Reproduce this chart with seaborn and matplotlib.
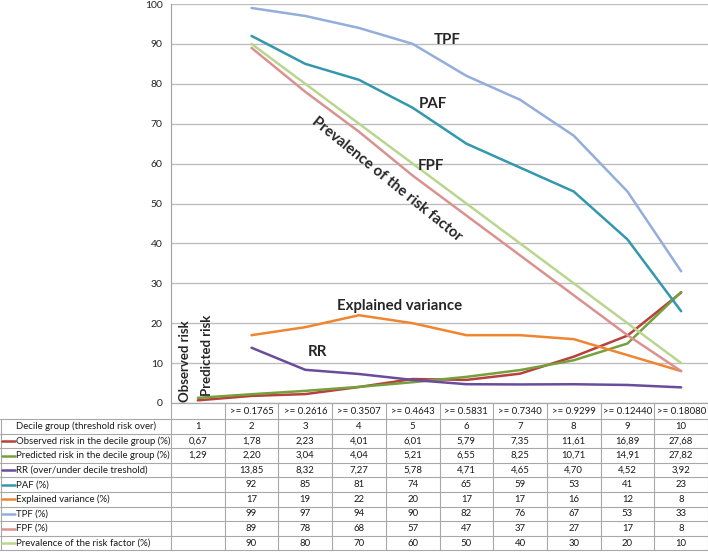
import matplotlib
matplotlib.use("Agg")
import matplotlib.pyplot as plt
import seaborn as sns
import pandas as pd
import numpy as np

categories = ['1', '2', '3', '4', '5', '6', '7', '8', '9', '10']
thresholds = ['', '>= 0.1765', '>= 0.2616', '>= 0.3507', '>= 0.4643', '>= 0.5831',
              '>= 0.7340', '>= 0.9299', '>= 0.12440', '>= 0.18080']
observed = [0.67, 1.78, 2.23, 4.01, 6.01, 5.79, 7.35, 11.61, 16.89, 27.68]
predicted = [1.29, 2.20, 3.04, 4.04, 5.21, 6.55, 8.25, 10.71, 14.91, 27.82]
rr = [np.nan, 13.85, 8.32, 7.27, 5.78, 4.71, 4.65, 4.70, 4.52, 3.92]
paf = [np.nan, 92, 85, 81, 74, 65, 59, 53, 41, 23]
expl_var = [np.nan, 17, 19, 22, 20, 17, 17, 16, 12, 8]
tpf = [np.nan, 99, 97, 94, 90, 82, 76, 67, 53, 33]
fpf = [np.nan, 89, 78, 68, 57, 47, 37, 27, 17, 8]
prevalence = [np.nan, 90, 80, 70, 60, 50, 40, 30, 20, 10]

series_names = ['Observed risk in the decile group (%)',
                'Predicted risk in the decile group (%)',
                'RR (over/under decile treshold)',
                'PAF (%)',
                'Explained variance (%)',
                'TPF (%)',
                'FPF (%)',
                'Prevalence of the risk factor (%)']
series_values = [observed, predicted, rr, paf, expl_var, tpf, fpf, prevalence]
decimals = [2, 2, 2, 0, 0, 0, 0, 0]
colors = ['#B8403D', '#76A03C', '#6A4C9C', '#3398AE', '#EF8530',
          '#93AEDA', '#DA9290', '#B9D68E']

sns.set_style("white")
plt.rcParams['font.family'] = ['Lato', 'DejaVu Sans']

W, H = 708, 553
fig = plt.figure(figsize=(W / 100, H / 100), dpi=100)

left, right, top, bottom = 171, 708, 4, 403
ax = fig.add_axes([left / W, (H - bottom) / H, (right - left) / W, (bottom - top) / H])

rows = []
for name, vals in zip(series_names, series_values):
    for c, v in zip(categories, vals):
        rows.append({'cat': c, 'value': v, 'series': name})
df = pd.DataFrame(rows).dropna()

sns.lineplot(data=df, x='cat', y='value', hue='series', hue_order=series_names,
             palette=dict(zip(series_names, colors)), linewidth=1.8,
             legend=False, ax=ax, sort=False)

ax.set_xlim(-0.5, len(categories) - 0.5)
ax.set_ylim(0, 100)
ax.set_yticks(range(0, 101, 10))
ax.set_xticks([])
ax.set_xlabel('')
ax.set_ylabel('')
ax.tick_params(axis='y', length=0, labelsize=7.5, labelcolor='#222222', pad=6)
ax.grid(axis='y', color='#BDBDBD', linewidth=1)
for s in ['top', 'right']:
    ax.spines[s].set_visible(False)
ax.spines['left'].set_color('#A0A0A0')
ax.spines['bottom'].set_color('#A0A0A0')

# Annotations
fs = 10.8
ax.text(4.64, 91, 'TPF', fontsize=fs, fontweight='bold', ha='center', va='center')
ax.text(4.38, 75, 'PAF', fontsize=fs, fontweight='bold', ha='center', va='center')
ax.text(4.34, 59.5, 'FPF', fontsize=fs, fontweight='bold', ha='center', va='center')
ax.text(3.52, 56, 'Prevalence of the risk factor', fontsize=fs, fontweight='bold',
        ha='center', va='center', rotation=-39, rotation_mode='anchor')
ax.text(3.76, 24.2, 'Explained variance', fontsize=fs, fontweight='bold', ha='center', va='center')
ax.text(2.22, 12.9, 'RR', fontsize=fs, fontweight='bold', ha='center', va='center')
ax.text(-0.24, 10.5, 'Observed risk', fontsize=9.5, fontweight='bold', ha='center', va='center', rotation=90)
ax.text(0.17, 12.0, 'Predicted risk', fontsize=9.5, fontweight='bold', ha='center', va='center', rotation=90)

# Data table drawn in figure pixel coordinates
tab = fig.add_axes([0, 0, 1, 1])
tab.set_xlim(0, W)
tab.set_ylim(H, 0)
tab.axis('off')
tab.patch.set_alpha(0)

grid_c = '#A8A8A8'
col_w = (right - left) / len(categories)
col_edges = [left + k * col_w for k in range(len(categories) + 1)]
hdr_top, hdr_bot = 403, 419
row_h = 14.6
n_rows = 1 + len(series_names)
row_edges = [hdr_bot + r * row_h for r in range(n_rows + 1)]

tab.plot([left, right], [hdr_top, hdr_top], color=grid_c, lw=0.8)
for x in col_edges:
    tab.plot([x, x], [hdr_top, row_edges[-1]], color=grid_c, lw=0.8)
for y in row_edges:
    tab.plot([0, right], [y, y], color=grid_c, lw=0.8)
tab.plot([0.5, 0.5], [hdr_bot, row_edges[-1]], color=grid_c, lw=0.8)

tfs = 6.9
tc = '#1A1A1A'
for k, t in enumerate(thresholds):
    tab.text(col_edges[k] + col_w / 2, (hdr_top + hdr_bot) / 2 + 0.5, t, fontsize=tfs,
             ha='center', va='center', color=tc)

yc = (row_edges[0] + row_edges[1]) / 2
tab.text(left / 2, yc, 'Decile group (threshold risk over)', fontsize=tfs, ha='center', va='center', color=tc)
for k, c in enumerate(categories):
    tab.text(col_edges[k] + col_w / 2, yc, c, fontsize=tfs, ha='center', va='center', color=tc)

for r, (name, vals, d, col) in enumerate(zip(series_names, series_values, decimals, colors)):
    yc = (row_edges[r + 1] + row_edges[r + 2]) / 2
    tab.plot([2, 15], [yc, yc], color=col, lw=1.8)
    tab.text(16, yc, name, fontsize=tfs, ha='left', va='center', color=tc)
    for k, v in enumerate(vals):
        if np.isnan(v):
            continue
        s = f"{v:.{d}f}".replace('.', ',')
        tab.text(col_edges[k] + col_w / 2, yc, s, fontsize=tfs, ha='center', va='center', color=tc)

fig.savefig('out.png', dpi=100)
